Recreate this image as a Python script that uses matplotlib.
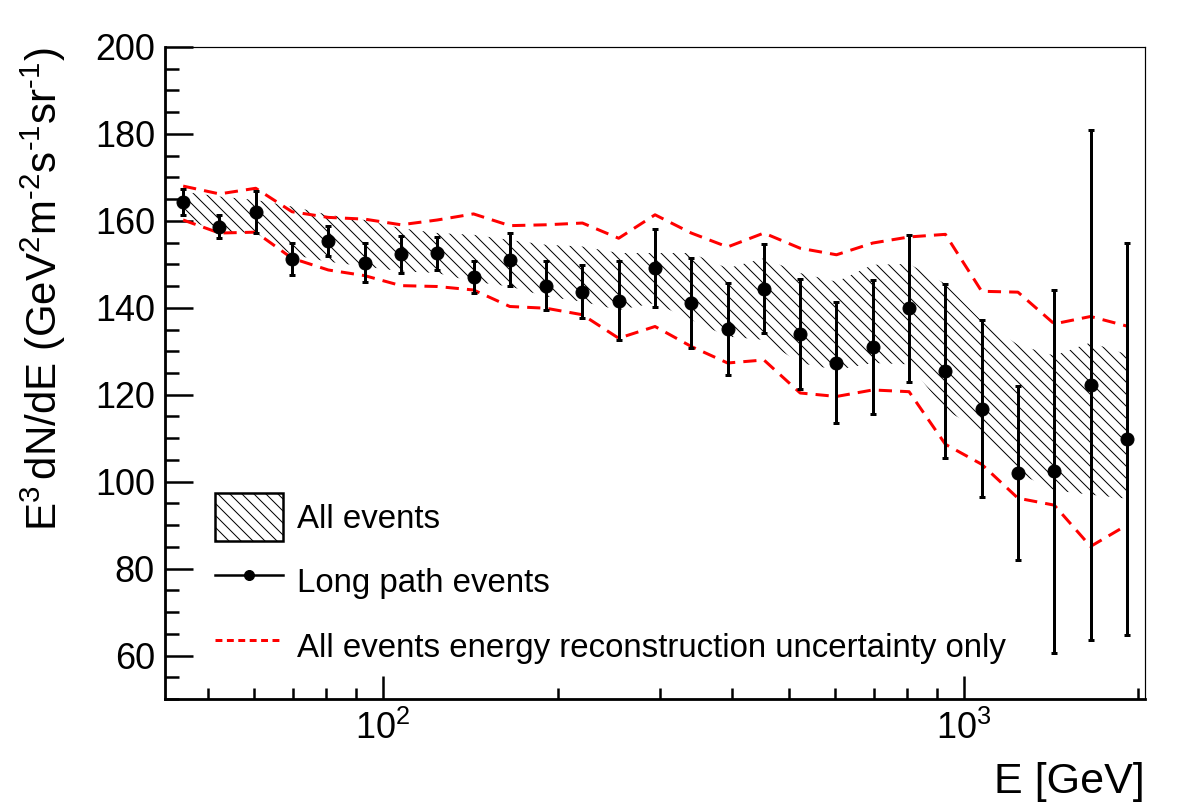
import matplotlib
matplotlib.use("Agg")
import matplotlib.pyplot as plt
from matplotlib.patches import Patch
from matplotlib.lines import Line2D
from matplotlib.ticker import MultipleLocator, NullFormatter, LogLocator

plt.rcParams["font.family"] = "Liberation Sans"
plt.rcParams["mathtext.fontset"] = "custom"
plt.rcParams["mathtext.rm"] = "Liberation Sans"
plt.rcParams["mathtext.it"] = "Liberation Sans:italic"
plt.rcParams["mathtext.bf"] = "Liberation Sans:bold"
plt.rcParams["hatch.linewidth"] = 1.0

# bin centres [GeV]
energy = [45.32, 52.33, 60.43, 69.78, 80.58, 93.06, 107.5, 124.1, 143.3,
          165.5, 191.1, 220.7, 254.8, 294.3, 339.8, 392.4, 453.2, 523.3,
          604.3, 697.8, 805.8, 930.6, 1074.6, 1240.9, 1433.0, 1654.8, 1910.9]

# long path events
flux = [164.4, 158.7, 162.1, 151.2, 155.4, 150.4, 152.3, 152.6, 147.1,
        151.1, 145.1, 143.7, 141.6, 149.1, 141.1, 135.2, 144.4, 134.0,
        127.4, 131.0, 139.9, 125.5, 116.8, 102.0, 102.4, 122.2, 109.8]
flux_err = [3.0, 2.6, 4.8, 3.6, 3.5, 4.5, 4.2, 3.8, 3.7,
            6.1, 5.7, 6.1, 9.1, 9.0, 10.3, 10.6, 10.3, 12.7,
            13.9, 15.5, 16.9, 20.0, 20.3, 20.0, 41.8, 58.7, 45.0]

# all events band
band_hi = [166.7, 165.6, 164.8, 163.3, 161.4, 160.2, 158.3, 157.2, 156.8,
           155.6, 154.5, 154.1, 152.6, 152.6, 152.6, 149.1, 151.4, 148.0,
           146.0, 149.9, 150.1, 145.5, 137.0, 131.5, 129.0, 132.0, 129.3]
band_lo = [160.6, 157.5, 157.2, 152.2, 150.6, 149.5, 148.4, 148.0, 146.0,
           144.9, 142.6, 141.4, 139.5, 141.1, 137.2, 133.4, 132.6, 127.3,
           125.7, 127.3, 127.0, 116.5, 111.7, 102.0, 98.0, 97.0, 96.1]

# all events, energy reconstruction uncertainty only
ereco_hi = [168.0, 166.2, 167.5, 162.1, 160.8, 160.4, 159.1, 160.2, 161.6,
            158.9, 159.1, 159.5, 156.0, 161.4, 157.2, 154.0, 157.2, 153.7,
            152.2, 154.9, 156.3, 156.9, 143.8, 143.6, 136.3, 138.0, 135.8]
ereco_lo = [160.2, 157.2, 157.4, 151.4, 148.7, 147.4, 145.1, 144.9, 144.1,
            140.3, 139.9, 138.4, 133.0, 135.7, 131.1, 127.3, 128.0, 120.4,
            119.6, 121.1, 120.7, 108.6, 104.0, 96.2, 94.6, 85.1, 90.0]

labels = ["All events", "Long path events",
          "All events energy reconstruction uncertainty only"]

fig = plt.figure(figsize=(1182 / 72, 805 / 72), dpi=72)
ax = fig.add_axes([165 / 1182, 1 - 699 / 805, 980 / 1182, 652 / 805])

ax.fill_between(energy, band_lo, band_hi, facecolor="none",
                edgecolor="black", linewidth=0, hatch="\\\\")
ax.plot(energy, ereco_hi, color="red", lw=3, dashes=(4.4, 2.7))
ax.plot(energy, ereco_lo, color="red", lw=3, dashes=(4.4, 2.7))
ax.errorbar(energy, flux, yerr=flux_err, fmt="o", color="black", ms=13,
            elinewidth=3, capsize=3, capthick=3)

ax.set_xscale("log")
ax.set_xlim(42.17, 2053.5)
ax.set_ylim(50, 200)
ax.xaxis.set_major_locator(LogLocator(base=10))
ax.xaxis.set_minor_locator(LogLocator(base=10, subs=range(2, 10)))
ax.xaxis.set_minor_formatter(NullFormatter())
ax.yaxis.set_major_locator(MultipleLocator(20))
ax.yaxis.set_minor_locator(MultipleLocator(5))

ax.tick_params(which="both", direction="in", top=False, right=False)
ax.tick_params(axis="y", which="major", length=28, width=2.5, labelsize=36, pad=10)
ax.tick_params(axis="y", which="minor", length=14, width=2.5)
ax.tick_params(axis="x", which="major", length=23, width=2.5, labelsize=36, pad=12)
ax.tick_params(axis="x", which="minor", length=11, width=2.5)

for side in ["left", "bottom"]:
    ax.spines[side].set_linewidth(2.8)
for side in ["top", "right"]:
    ax.spines[side].set_linewidth(1.2)

ax.set_xlabel("E [GeV]", fontsize=43, loc="right")
ax.xaxis.set_label_coords(1.0, -0.097)
ax.set_ylabel(r"$\mathregular{E^{3}\,dN/dE\ (GeV^{2}m^{\text{-}2}s^{\text{-}1}sr^{\text{-}1})}$",
              fontsize=42, loc="top")
ax.yaxis.set_label_coords(-0.099, 1.0)

handles = [
    Patch(facecolor="white", edgecolor="black", hatch="\\\\", linewidth=2.5),
    Line2D([], [], color="black", lw=2.5, marker="o", ms=10),
    Line2D([], [], color="red", lw=3, ls=(0, (2.3, 1.5))),
]
ax.legend(handles, labels, loc="lower left", bbox_to_anchor=(0.051, 0.044),
          frameon=False, fontsize=33, handlelength=2.06, handleheight=1.86,
          labelspacing=0.5, handletextpad=0.42, borderpad=0, borderaxespad=0)

fig.savefig("out.png", dpi=72)
